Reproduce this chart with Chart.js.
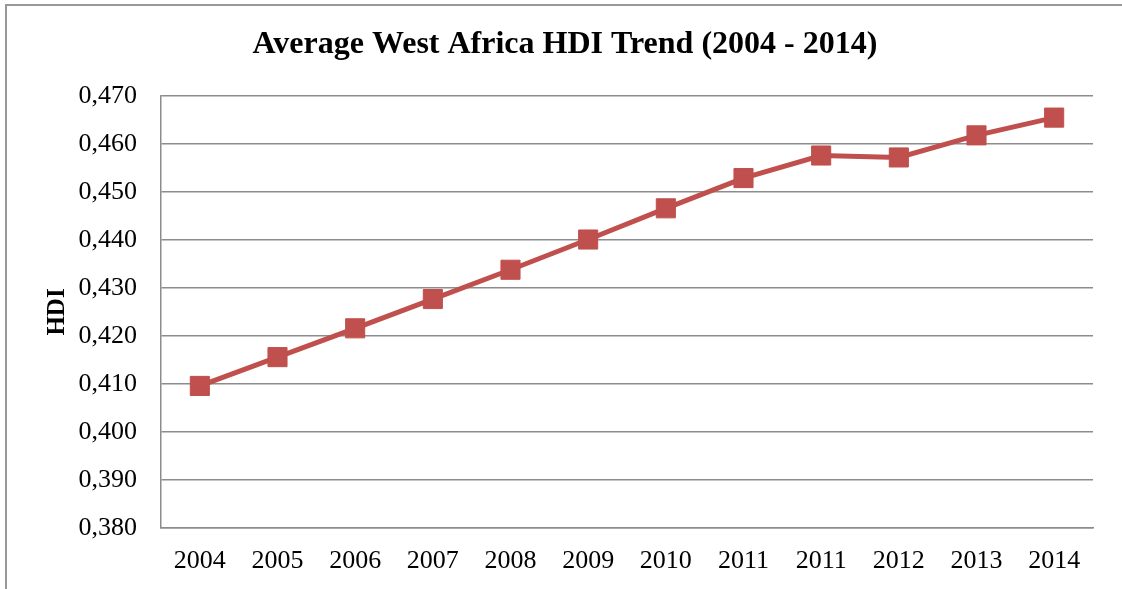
<!DOCTYPE html>
<html>
<head>
<meta charset="utf-8">
<script src="https://cdn.jsdelivr.net/npm/chart.js@4.4.0/dist/chart.umd.min.js"></script>
<style>
  body { margin: 0; background: #fff; }
  #wrap { position: relative; width: 1122px; height: 589px; overflow: hidden; }
  #frame { position: absolute; left: 5px; top: 4px; width: 1200px; height: 620px; border: 2px solid #999; box-sizing: border-box; }
  canvas { position: absolute; left: 0; top: 0; }
</style>
</head>
<body>
<div id="wrap">
  <div id="frame"></div>
  <canvas id="hdiChart" width="1122" height="589"></canvas>
</div>
<script>
// years as labelled on the original chart (2011 appears twice)
const years = ['2004', '2005', '2006', '2007', '2008', '2009', '2010', '2011', '2011', '2012', '2013', '2014'];
const hdiValues = [0.4096, 0.4156, 0.4216, 0.4277, 0.4338, 0.4401, 0.4466, 0.4529, 0.4576, 0.4572, 0.4618, 0.4655];
const yMin = 0.38;
const yMax = 0.47;
const yStep = 0.01;

const serif = '"Liberation Serif", "Times New Roman", serif';
const gridGray = '#8c8c8c';
const red = '#C0504D';

const ctx = document.getElementById('hdiChart').getContext('2d');

new Chart(ctx, {
  type: 'line',
  data: {
    labels: years,
    datasets: [{
      label: 'HDI',
      data: hdiValues,
      borderColor: red,
      borderWidth: 5,
      tension: 0,
      pointStyle: 'rect',
      pointRadius: 13.5,
      pointBackgroundColor: red,
      pointBorderColor: red,
      pointBorderWidth: 1
    }]
  },
  options: {
    responsive: false,
    animation: false,
    layout: {
      // left padding shifts the title centre to match the original
      padding: { left: 37, right: 29, top: 0, bottom: 0 }
    },
    plugins: {
      legend: { display: false },
      tooltip: { enabled: false },
      title: {
        display: true,
        text: 'Average West Africa HDI Trend (2004 - 2014)',
        color: '#000',
        font: { family: serif, size: 32, weight: 'bold', lineHeight: 1.2 },
        padding: { top: 26, bottom: 31.6 }
      }
    },
    scales: {
      x: {
        offset: true,
        grid: { display: false, drawTicks: false },
        border: { display: true, color: gridGray, width: 1.5 },
        ticks: {
          color: '#000',
          font: { family: serif, size: 26 },
          padding: 18,
          maxRotation: 0,
          autoSkip: false
        },
        afterFit: (scale) => { scale.height = 61; }
      },
      y: {
        min: yMin,
        max: yMax,
        grid: { color: gridGray, lineWidth: 1.5, drawTicks: false },
        border: { display: true, color: gridGray, width: 1.5 },
        ticks: {
          stepSize: yStep,
          color: '#000',
          font: { family: serif, size: 26 },
          padding: 24,
          callback: (v) => v.toFixed(3).replace('.', ',')
        },
        title: {
          display: true,
          text: 'HDI',
          color: '#000',
          font: { family: serif, size: 25, weight: 'bold', lineHeight: 1.2 },
          padding: { top: 6, bottom: 0 }
        },
        afterFit: (scale) => { scale.width = 124; }
      }
    }
  }
});
</script>
</body>
</html>
